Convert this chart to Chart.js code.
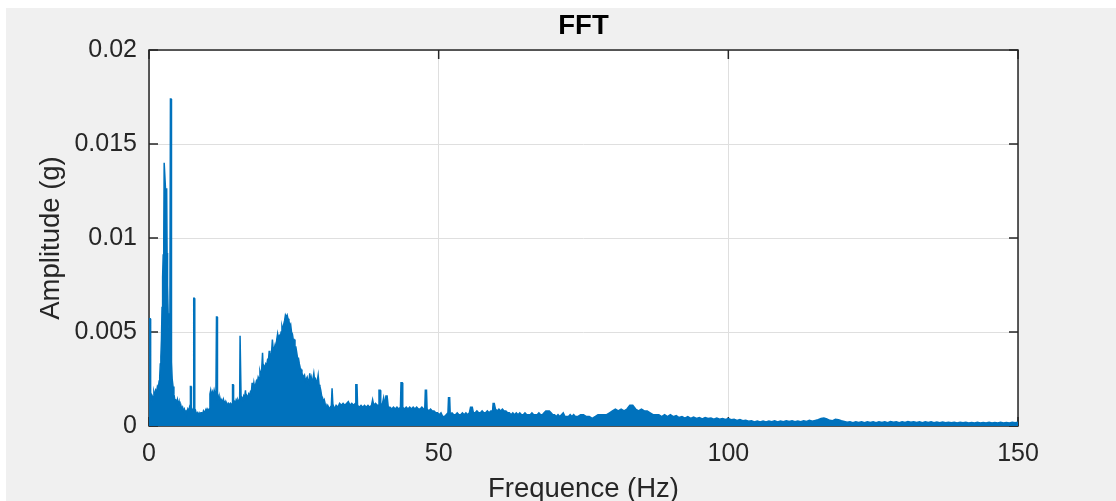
<!DOCTYPE html>
<html>
<head>
<meta charset="utf-8">
<title>FFT</title>
<script src="https://cdn.jsdelivr.net/npm/chart.js@4.4.1/dist/chart.umd.min.js"></script>
<style>
  html, body { margin: 0; padding: 0; background: #ffffff; }
  #wrap { position: relative; width: 1116px; height: 501px; overflow: hidden; }
  #panel { position: absolute; left: 6px; top: 8px; right: 0; bottom: 0; background: #f0f0f0; }
  #c { position: absolute; left: 0; top: 0; }
</style>
</head>
<body>
<div id="wrap">
  <div id="panel"></div>
  <canvas id="c" width="1116" height="501"></canvas>
</div>
<script>
// Single-sided amplitude spectrum, [frequency (Hz), amplitude (g)]

// 0 - 4.5 Hz: DC component and the two dominant low-frequency peaks
const bandLow = [
  [0.00, 0.0057], [0.20, 0.0057], [0.28, 0.0014], [0.35, 0.0016], [0.45, 0.0013],
  [0.55, 0.0016], [0.70, 0.0015], [0.85, 0.0018], [1.00, 0.0016], [1.15, 0.0019],
  [1.30, 0.0018], [1.45, 0.0021], [1.60, 0.0020], [1.75, 0.0024], [1.85, 0.0026],
  [1.95, 0.0033], [2.05, 0.0037], [2.15, 0.0046], [2.25, 0.0063], [2.35, 0.0079],
  [2.45, 0.0091], [2.55, 0.0100], [2.62, 0.0140], [2.75, 0.0140], [2.85, 0.0126],
  [3.05, 0.0126], [3.12, 0.0092], [3.20, 0.0075], [3.30, 0.0060], [3.45, 0.0052],
  [3.60, 0.0050], [3.70, 0.0174], [3.80, 0.0174], [3.88, 0.0034], [4.00, 0.0025],
  [4.15, 0.0021], [4.30, 0.0017], [4.45, 0.0014]
];

// 4.5 - 32 Hz: harmonic lines and the broad resonance around 24 Hz
const bandHump = [
  [4.60, 0.0014], [4.75, 0.0012], [4.90, 0.0014], [5.05, 0.0011], [5.20, 0.0013],
  [5.35, 0.0010], [5.50, 0.0011], [5.65, 0.0009], [5.80, 0.0010], [5.95, 0.0008],
  [6.10, 0.0009], [6.25, 0.0007], [6.40, 0.0008], [6.55, 0.0007], [6.70, 0.0009],
  [6.85, 0.0008], [7.00, 0.0010], [7.10, 0.0009], [7.15, 0.0021], [7.25, 0.0021],
  [7.32, 0.0008], [7.45, 0.0009], [7.60, 0.0008], [7.72, 0.0068], [7.82, 0.0068],
  [7.90, 0.0007], [8.05, 0.0008], [8.20, 0.0006], [8.35, 0.0007], [8.50, 0.0006],
  [8.65, 0.0007], [8.80, 0.0006], [8.95, 0.0007], [9.10, 0.0007], [9.25, 0.0006],
  [9.40, 0.0008], [9.55, 0.0007], [9.70, 0.0008], [9.85, 0.0009], [10.00, 0.0008],
  [10.15, 0.0009], [10.30, 0.0008], [10.45, 0.0009], [10.52, 0.0017], [10.65, 0.0019],
  [10.80, 0.0016], [10.95, 0.0018], [11.10, 0.0016], [11.25, 0.0019], [11.40, 0.0017],
  [11.55, 0.0016], [11.65, 0.0058], [11.75, 0.0058], [11.82, 0.0015], [11.95, 0.0016],
  [12.10, 0.0014], [12.25, 0.0015], [12.40, 0.0013], [12.55, 0.0014], [12.70, 0.0012],
  [12.85, 0.0014], [13.00, 0.0012], [13.15, 0.0013], [13.30, 0.0011], [13.45, 0.0012],
  [13.60, 0.0011], [13.75, 0.0012], [13.90, 0.0011], [14.05, 0.0012], [14.20, 0.0011],
  [14.35, 0.0012], [14.42, 0.0022], [14.52, 0.0022], [14.60, 0.0012], [14.75, 0.0013],
  [14.90, 0.0012], [15.05, 0.0014], [15.20, 0.0013], [15.35, 0.0014], [15.50, 0.0013],
  [15.65, 0.0014], [15.72, 0.0048], [15.82, 0.0048], [15.90, 0.0014], [16.05, 0.0015],
  [16.20, 0.0014], [16.35, 0.0016], [16.50, 0.0015], [16.65, 0.0019], [16.75, 0.0015],
  [16.90, 0.0016], [17.05, 0.0015], [17.20, 0.0017], [17.35, 0.0016], [17.50, 0.0018],
  [17.65, 0.0017], [17.80, 0.0023], [17.95, 0.0019], [18.10, 0.0023], [18.25, 0.0020],
  [18.40, 0.0022], [18.55, 0.0024], [18.70, 0.0023], [18.85, 0.0026], [19.00, 0.0025],
  [19.15, 0.0029], [19.30, 0.0027], [19.45, 0.0030], [19.60, 0.0039], [19.70, 0.0030],
  [19.85, 0.0032], [20.00, 0.0031], [20.15, 0.0033], [20.30, 0.0032], [20.45, 0.0035],
  [20.60, 0.0034], [20.75, 0.0040], [20.85, 0.0036], [21.00, 0.0037], [21.15, 0.0039],
  [21.30, 0.0046], [21.45, 0.0040], [21.60, 0.0041], [21.75, 0.0043], [21.90, 0.0040],
  [22.05, 0.0046], [22.20, 0.0049], [22.35, 0.0046], [22.50, 0.0048], [22.65, 0.0047],
  [22.80, 0.0050], [22.95, 0.0053], [23.10, 0.0051], [23.25, 0.0054], [23.40, 0.0056],
  [23.55, 0.0059], [23.70, 0.0058], [23.85, 0.0059], [24.00, 0.0057], [24.15, 0.0056],
  [24.30, 0.0053], [24.45, 0.0054], [24.60, 0.0050], [24.75, 0.0049], [24.90, 0.0046],
  [25.05, 0.0046], [25.20, 0.0042], [25.35, 0.0042], [25.50, 0.0039], [25.65, 0.0036],
  [25.80, 0.0036], [25.95, 0.0033], [26.10, 0.0031], [26.25, 0.0030], [26.40, 0.0028],
  [26.55, 0.0027], [26.70, 0.0026], [26.85, 0.0027], [27.00, 0.0024], [27.15, 0.0025],
  [27.30, 0.0026], [27.45, 0.0024], [27.60, 0.0023], [27.75, 0.0028], [27.85, 0.0024],
  [28.00, 0.0026], [28.15, 0.0023], [28.30, 0.0025], [28.45, 0.0028], [28.60, 0.0024],
  [28.75, 0.0025], [28.90, 0.0023], [29.05, 0.0024], [29.20, 0.0027], [29.35, 0.0022],
  [29.50, 0.0021], [29.65, 0.0019], [29.80, 0.0016], [29.95, 0.0015], [30.10, 0.0013],
  [30.25, 0.0014], [30.40, 0.0012], [30.55, 0.0011], [30.70, 0.0010], [30.85, 0.0011],
  [31.00, 0.0010], [31.15, 0.0009], [31.30, 0.0010], [31.45, 0.0009], [31.60, 0.0020],
  [31.70, 0.0020], [31.78, 0.0009], [31.90, 0.0010]
];

// 32 - 75 Hz: low floor with isolated lines
const bandMid = [
  [32.0, 0.0009], [32.3, 0.0011], [32.6, 0.0010], [32.9, 0.0012], [33.2, 0.0011],
  [33.5, 0.0012], [33.8, 0.0011], [34.1, 0.0012], [34.4, 0.0013], [34.7, 0.0011],
  [35.0, 0.0012], [35.3, 0.0011], [35.6, 0.0012], [35.7, 0.0022], [35.9, 0.0022],
  [36.0, 0.0011], [36.3, 0.0010], [36.6, 0.0011], [36.9, 0.0010], [37.2, 0.0011],
  [37.5, 0.0010], [37.8, 0.0011], [38.1, 0.0010], [38.4, 0.0011], [38.6, 0.0014],
  [38.8, 0.0011], [39.1, 0.0012], [39.4, 0.0011], [39.6, 0.0011], [39.7, 0.0019],
  [39.9, 0.0019], [40.0, 0.0011], [40.3, 0.0012], [40.5, 0.0015], [40.7, 0.0011],
  [40.9, 0.0016], [41.1, 0.0016], [41.3, 0.0010], [41.6, 0.0010], [41.9, 0.0009],
  [42.2, 0.0010], [42.5, 0.0009], [42.8, 0.0010], [43.1, 0.0009], [43.4, 0.0010],
  [43.5, 0.0023], [43.7, 0.0023], [43.8, 0.0010], [44.1, 0.0009], [44.4, 0.0010],
  [44.7, 0.0009], [45.0, 0.0010], [45.3, 0.0009], [45.6, 0.0010], [45.9, 0.0009],
  [46.2, 0.0010], [46.5, 0.0009], [46.8, 0.0009], [47.1, 0.0010], [47.4, 0.0009],
  [47.6, 0.0009], [47.7, 0.0019], [47.9, 0.0019], [48.0, 0.0009], [48.3, 0.0008],
  [48.6, 0.0009], [48.9, 0.0008], [49.2, 0.0008], [49.5, 0.0007], [49.8, 0.0007],
  [50.1, 0.0006], [50.4, 0.0007], [50.7, 0.0005], [51.0, 0.0005], [51.3, 0.0006],
  [51.6, 0.0007], [51.7, 0.0015], [51.9, 0.0015], [52.0, 0.0006], [52.3, 0.0007],
  [52.6, 0.0006], [52.9, 0.0006], [53.2, 0.0007], [53.5, 0.0006], [53.8, 0.0006],
  [54.1, 0.0007], [54.4, 0.0006], [54.7, 0.0007], [55.0, 0.0006], [55.3, 0.0007],
  [55.5, 0.0010], [55.8, 0.0010], [56.0, 0.0007], [56.3, 0.0007], [56.6, 0.0008],
  [56.9, 0.0007], [57.2, 0.0007], [57.5, 0.0008], [57.8, 0.0007], [58.1, 0.0007],
  [58.4, 0.0008], [58.7, 0.0007], [59.0, 0.0008], [59.3, 0.0008], [59.4, 0.0012],
  [59.6, 0.0012], [59.8, 0.0009], [60.1, 0.0008], [60.4, 0.0009], [60.7, 0.0008],
  [61.0, 0.0009], [61.3, 0.0008], [61.6, 0.0008], [61.9, 0.0007], [62.2, 0.0007],
  [62.5, 0.0006], [62.8, 0.0007], [63.1, 0.0006], [63.4, 0.0007], [63.7, 0.0006],
  [64.0, 0.0007], [64.3, 0.0006], [64.6, 0.0006], [64.9, 0.0007], [65.2, 0.0006],
  [65.5, 0.0006], [65.8, 0.0006], [66.1, 0.0007], [66.4, 0.0006], [66.7, 0.0006],
  [67.0, 0.0006], [67.3, 0.0007], [67.6, 0.0006], [67.9, 0.0006], [68.2, 0.0007],
  [68.5, 0.0008], [68.8, 0.0008], [69.1, 0.0008], [69.4, 0.0007], [69.7, 0.0006],
  [70.0, 0.0006], [70.3, 0.0005], [70.6, 0.0006], [70.9, 0.0005], [71.2, 0.0006],
  [71.5, 0.0007], [71.8, 0.0005], [72.1, 0.0005], [72.4, 0.0005], [72.7, 0.0006],
  [73.0, 0.0005], [73.3, 0.0006], [73.6, 0.0005], [74.0, 0.0005], [74.5, 0.0006]
];

// 75 - 120 Hz: small bump near 83 Hz and a slowly falling floor
const bandUpper = [
  [75.0, 0.0006], [75.5, 0.0005], [76.0, 0.0005], [76.5, 0.0004], [77.0, 0.0005],
  [77.5, 0.0006], [78.0, 0.0006], [78.5, 0.0006], [79.0, 0.0006], [79.5, 0.0007],
  [80.0, 0.0008], [80.5, 0.0009], [81.0, 0.0008], [81.5, 0.0009], [82.0, 0.0008],
  [82.5, 0.0009], [83.0, 0.0011], [83.5, 0.0011], [84.0, 0.0009], [84.5, 0.0008],
  [85.0, 0.0009], [85.5, 0.0008], [86.0, 0.0008], [86.5, 0.0007], [87.0, 0.0006],
  [87.5, 0.0006], [88.0, 0.0006], [88.5, 0.0005], [89.0, 0.0006], [89.5, 0.0005],
  [90.0, 0.0006], [90.5, 0.0005], [91.0, 0.00055], [91.5, 0.00045], [92.0, 0.0005],
  [92.5, 0.00042], [93.0, 0.0005], [93.5, 0.0004], [94.0, 0.00048], [94.5, 0.0004],
  [95.0, 0.00045], [95.5, 0.00038], [96.0, 0.00045], [96.5, 0.0004], [97.0, 0.00042],
  [97.5, 0.00036], [98.0, 0.00042], [98.5, 0.00036], [99.0, 0.0004], [99.5, 0.00035],
  [100.0, 0.0004], [100.5, 0.00033], [101.0, 0.00036], [101.5, 0.0003], [102.0, 0.00034],
  [102.5, 0.00028], [103.0, 0.0003], [103.5, 0.00025], [104.0, 0.00028], [104.5, 0.00022],
  [105.0, 0.00026], [105.5, 0.00022], [106.0, 0.00027], [106.5, 0.00022], [107.0, 0.00026],
  [107.5, 0.00023], [108.0, 0.00028], [108.5, 0.00022], [109.0, 0.00027], [109.5, 0.00023],
  [110.0, 0.00028], [110.5, 0.00024], [111.0, 0.00028], [111.5, 0.00023], [112.0, 0.00027],
  [112.5, 0.00023], [113.0, 0.00028], [113.5, 0.00024], [114.0, 0.0003], [114.5, 0.00026],
  [115.0, 0.0003], [115.5, 0.00034], [116.0, 0.0004], [116.5, 0.00042], [117.0, 0.00038],
  [117.5, 0.0003], [118.0, 0.00028], [118.5, 0.00036], [119.0, 0.00034], [119.5, 0.00028]
];

// 120 - 150 Hz: flat tail
const bandTail = [
  [120.0, 0.00024], [120.5, 0.0002], [121.0, 0.00022], [121.5, 0.00018], [122.0, 0.00022],
  [122.5, 0.00019], [123.0, 0.00023], [123.5, 0.00018], [124.0, 0.00022], [124.5, 0.00019],
  [125.0, 0.00022], [125.5, 0.00018], [126.0, 0.00023], [126.5, 0.00019], [127.0, 0.00022],
  [127.5, 0.00018], [128.0, 0.00024], [128.5, 0.0002], [129.0, 0.00022], [129.5, 0.00018],
  [130.0, 0.00022], [130.5, 0.00019], [131.0, 0.00024], [131.5, 0.0002], [132.0, 0.00023],
  [132.5, 0.00019], [133.0, 0.00022], [133.5, 0.00018], [134.0, 0.00022], [134.5, 0.00019],
  [135.0, 0.00023], [135.5, 0.00018], [136.0, 0.00021], [136.5, 0.00017], [137.0, 0.00021],
  [137.5, 0.00017], [138.0, 0.0002], [138.5, 0.00017], [139.0, 0.0002], [139.5, 0.00016],
  [140.0, 0.0002], [140.5, 0.00017], [141.0, 0.0002], [141.5, 0.00016], [142.0, 0.00019],
  [142.5, 0.00016], [143.0, 0.0002], [143.5, 0.00016], [144.0, 0.00019], [144.5, 0.00016],
  [145.0, 0.0002], [145.5, 0.00016], [146.0, 0.00019], [146.5, 0.00016], [147.0, 0.0002],
  [147.5, 0.00016], [148.0, 0.00019], [148.5, 0.00016], [149.0, 0.0002], [149.5, 0.00017],
  [150.0, 0.0002]
];

const xTicks = [0, 50, 100, 150];
const yTicks = [0, 0.005, 0.01, 0.015, 0.02];

const titleText = 'FFT';
const xTitle = 'Frequence (Hz)';
const yTitle = 'Amplitude (g)';

const lineBlue = '#0072BD';
const axisGray = '#262626';
const gridGray = '#dfdfdf';
const fontFamily = '"Liberation Sans", Arial, Helvetica, sans-serif';

const spectrum = [...bandLow, ...bandHump, ...bandMid, ...bandUpper, ...bandTail]
  .map(([f, a]) => ({ x: f, y: a }));

// White plot background behind the data
const plotBackground = {
  id: 'plotBackground',
  beforeDraw(chart) {
    const { ctx, chartArea: a } = chart;
    ctx.save();
    ctx.fillStyle = '#ffffff';
    ctx.fillRect(a.left, a.top, a.right - a.left, a.bottom - a.top);
    ctx.restore();
  }
};

// Boxed axes with inward tick marks on all four sides, kept underneath the data
const boxAxes = {
  id: 'boxAxes',
  beforeDatasetsDraw(chart) {
    const { ctx, chartArea: a, scales } = chart;
    const tl = 9;
    ctx.save();
    ctx.strokeStyle = axisGray;
    ctx.lineWidth = 1.5;
    ctx.strokeRect(a.left, a.top, a.right - a.left, a.bottom - a.top);
    ctx.beginPath();
    xTicks.forEach(v => {
      const px = scales.x.getPixelForValue(v);
      ctx.moveTo(px, a.bottom); ctx.lineTo(px, a.bottom - tl);
      ctx.moveTo(px, a.top); ctx.lineTo(px, a.top + tl);
    });
    yTicks.forEach(v => {
      const py = scales.y.getPixelForValue(v);
      ctx.moveTo(a.left, py); ctx.lineTo(a.left + tl, py);
      ctx.moveTo(a.right, py); ctx.lineTo(a.right - tl, py);
    });
    ctx.stroke();
    ctx.restore();
  }
};

new Chart(document.getElementById('c'), {
  type: 'line',
  data: {
    datasets: [{
      data: spectrum,
      borderColor: lineBlue,
      backgroundColor: lineBlue,
      borderWidth: 1.5,
      pointRadius: 0,
      tension: 0,
      fill: 'origin',
      clip: 2
    }]
  },
  options: {
    responsive: false,
    animation: false,
    devicePixelRatio: 1,
    events: [],
    layout: { padding: { left: 0, right: 98, top: 0, bottom: 0 } },
    plugins: {
      legend: { display: false },
      tooltip: { enabled: false },
      title: {
        display: true,
        text: titleText,
        fullSize: false,
        color: '#000000',
        font: { family: fontFamily, size: 27.5, weight: 'bold', lineHeight: 1 },
        padding: { top: 12.75, bottom: 9.75 }
      }
    },
    scales: {
      x: {
        type: 'linear',
        min: 0,
        max: 150,
        afterBuildTicks: s => { s.ticks = xTicks.map(v => ({ value: v })); },
        afterFit: s => { s.height = 75; },
        ticks: {
          color: axisGray,
          font: { family: fontFamily, size: 25 },
          padding: 13,
          maxRotation: 0,
          callback: v => String(v)
        },
        grid: { color: gridGray, lineWidth: 1, drawTicks: false },
        border: { display: false },
        title: {
          display: true,
          text: xTitle,
          color: axisGray,
          font: { family: fontFamily, size: 27.5, lineHeight: 0.8 },
          padding: { top: 0, bottom: 0.5 }
        }
      },
      y: {
        type: 'linear',
        min: 0,
        max: 0.02,
        afterBuildTicks: s => { s.ticks = yTicks.map(v => ({ value: v })); },
        afterFit: s => { s.width = 149; },
        ticks: {
          color: axisGray,
          font: { family: fontFamily, size: 25 },
          padding: 12,
          callback: v => String(v)
        },
        grid: { color: gridGray, lineWidth: 1, drawTicks: false },
        border: { display: false },
        title: {
          display: true,
          text: yTitle,
          color: axisGray,
          font: { family: fontFamily, size: 27.5, lineHeight: 1 },
          padding: { top: 37.75, bottom: 0 }
        }
      }
    }
  },
  plugins: [plotBackground, boxAxes]
});
</script>
</body>
</html>
